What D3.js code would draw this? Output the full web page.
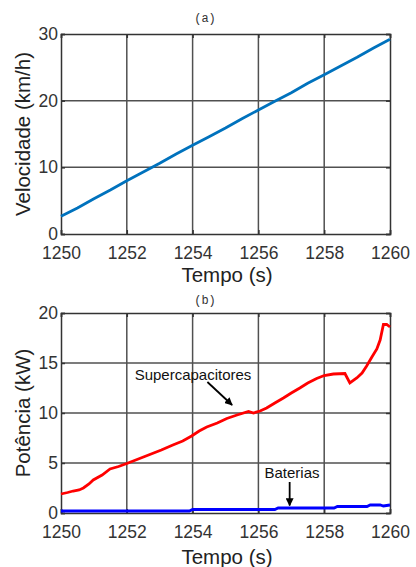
<!DOCTYPE html>
<html>
<head>
<meta charset="utf-8">
<script src="https://cdn.jsdelivr.net/npm/d3@7"></script>
<style>
  html, body { margin: 0; padding: 0; background: #fff; }
  svg text { font-family: "Liberation Sans", Arial, sans-serif; }
</style>
</head>
<body>
<div id="chart"></div>
<script>
// Velocity and power over time, two stacked panels
const timeTicks = [1250, 1252, 1254, 1256, 1258, 1260];
const speedTicks = [0, 10, 20, 30];
const powerTicks = [0, 5, 10, 15, 20];

const speedT = [1250, 1250.5, 1251, 1251.5, 1252, 1252.5, 1253, 1253.5, 1254, 1254.5, 1255, 1255.5, 1256, 1256.5, 1257, 1257.5, 1258, 1258.5, 1259, 1259.5, 1260];
const speedV = [2.65, 3.9, 5.3, 6.6, 8.0, 9.3, 10.6, 12.0, 13.3, 14.6, 15.9, 17.3, 18.6, 19.9, 21.2, 22.6, 23.9, 25.2, 26.5, 27.9, 29.2];

const scT = [1250, 1250.2, 1250.37, 1250.55, 1250.68, 1250.85, 1250.98, 1251.25, 1251.49, 1251.75, 1252, 1252.35, 1252.7, 1253.05, 1253.4, 1253.7, 1253.97, 1254.2, 1254.43, 1254.75, 1255.04, 1255.35, 1255.7, 1255.85, 1256.05, 1256.25, 1256.5, 1256.76, 1257, 1257.26, 1257.5, 1257.77, 1258, 1258.28, 1258.63, 1258.78, 1258.99, 1259.15, 1259.29, 1259.45, 1259.6, 1259.7, 1259.8, 1259.9, 1260];
const scP = [1.9, 2.05, 2.2, 2.3, 2.5, 2.9, 3.3, 3.8, 4.4, 4.65, 4.95, 5.4, 5.85, 6.3, 6.8, 7.2, 7.7, 8.2, 8.6, 9.0, 9.45, 9.8, 10.15, 10.0, 10.2, 10.5, 11.0, 11.5, 12.0, 12.5, 13.0, 13.45, 13.75, 13.9, 13.95, 13.0, 13.5, 14.0, 14.7, 15.6, 16.4, 17.3, 18.85, 18.85, 18.6];

const batT = [1250, 1253.9, 1254, 1256.5, 1256.6, 1258.3, 1258.4, 1259.3, 1259.4, 1259.7, 1259.8, 1260];
const batP = [0.2, 0.2, 0.35, 0.35, 0.5, 0.5, 0.65, 0.65, 0.8, 0.8, 0.7, 0.8];

const W = 416, H = 567;
const svg = d3.select("#chart").append("svg").attr("width", W).attr("height", H);

const x = d3.scaleLinear().domain([1250, 1260]).range([61, 390]);

const panel = (top, bottom, yDomain, yTicks, title, titleY, yLabel, xLabelY) => {
    const y = d3.scaleLinear().domain(yDomain).range([bottom, top]);
    const g = svg.append("g");

    // grid
    g.selectAll(".gx").data(timeTicks.slice(1, -1)).join("line")
        .attr("x1", d => x(d)).attr("x2", d => x(d))
        .attr("y1", top).attr("y2", bottom)
        .attr("stroke", "#505050").attr("stroke-width", 1.5);
    g.selectAll(".gy").data(yTicks.slice(1, -1)).join("line")
        .attr("y1", d => y(d)).attr("y2", d => y(d))
        .attr("x1", x.range()[0]).attr("x2", x.range()[1])
        .attr("stroke", "#505050").attr("stroke-width", 1.5);

    // axes (MATLAB-like inward ticks)
    g.append("g").attr("transform", `translate(0,${bottom})`)
        .call(d3.axisBottom(x).tickValues(timeTicks).tickFormat(d3.format("d")).tickSize(-4).tickPadding(13));
    g.append("g").attr("transform", `translate(${x.range()[0]},0)`)
        .call(d3.axisLeft(y).tickValues(yTicks).tickSize(-4).tickPadding(3));
    g.append("g").attr("transform", `translate(0,${top})`)
        .call(d3.axisTop(x).tickValues(timeTicks).tickFormat("").tickSize(-4));
    g.append("g").attr("transform", `translate(${x.range()[1]},0)`)
        .call(d3.axisRight(y).tickValues(yTicks).tickFormat("").tickSize(-4));
    g.selectAll(".domain, .tick line").attr("stroke", "#333").attr("stroke-width", 1.5);
    g.selectAll(".tick text").attr("fill", "#333").style("font-size", "17.5px");

    g.append("text").attr("x", 205).attr("y", titleY)
        .attr("text-anchor", "middle").style("font-family", "'Liberation Mono', 'DejaVu Sans Mono', monospace")
        .style("font-size", "12px").attr("fill", "#333").text(title);
    g.append("text").attr("transform", `translate(30,${(top + bottom) / 2}) rotate(-90)`)
        .attr("text-anchor", "middle").style("font-size", "20.5px").attr("fill", "#222").text(yLabel);
    g.append("text").attr("x", 227).attr("y", xLabelY)
        .attr("text-anchor", "middle").style("font-size", "20.5px").attr("fill", "#222").text("Tempo (s)");
    return y;
};

const line = (y) => d3.line().x(d => x(d[0])).y(d => y(d[1]));

// (a) speed
const yA = panel(34, 234, [0, 30], speedTicks, "(a)", 22, "Velocidade (km/h)", 282);
svg.append("path").datum(d3.zip(speedT, speedV)).attr("d", line(yA))
    .attr("fill", "none").attr("stroke", "#0072BD").attr("stroke-width", 2.8);

// (b) power
const yB = panel(313, 513, [0, 20], powerTicks, "(b)", 304, "Potência (kW)", 564);
svg.append("path").datum(d3.zip(scT, scP)).attr("d", line(yB))
    .attr("fill", "none").attr("stroke", "#ff0000").attr("stroke-width", 2.8);
svg.append("path").datum(d3.zip(batT, batP)).attr("d", line(yB))
    .attr("fill", "none").attr("stroke", "#0000ff").attr("stroke-width", 2.8);

// annotations
const defs = svg.append("defs");
defs.append("marker").attr("id", "arr").attr("viewBox", "0 0 10 10")
    .attr("refX", 9).attr("refY", 5).attr("markerWidth", 8).attr("markerHeight", 8)
    .attr("orient", "auto").attr("markerUnits", "userSpaceOnUse")
    .append("path").attr("d", "M0,0L10,5L0,10z").attr("fill", "#000");

svg.append("text").attr("x", 193).attr("y", 380).attr("text-anchor", "middle")
    .style("font-size", "15px").attr("fill", "#111").text("Supercapacitores");
svg.append("line").attr("x1", x(1254.45)).attr("y1", yB(13.1)).attr("x2", x(1255.2)).attr("y2", yB(10.8))
    .attr("stroke", "#000").attr("stroke-width", 1.8).attr("marker-end", "url(#arr)");

svg.append("text").attr("x", 292).attr("y", 478).attr("text-anchor", "middle")
    .style("font-size", "15px").attr("fill", "#111").text("Baterias");
svg.append("line").attr("x1", x(1256.95)).attr("y1", yB(3.1)).attr("x2", x(1256.95)).attr("y2", yB(0.75))
    .attr("stroke", "#000").attr("stroke-width", 1.8).attr("marker-end", "url(#arr)");
</script>
</body>
</html>
